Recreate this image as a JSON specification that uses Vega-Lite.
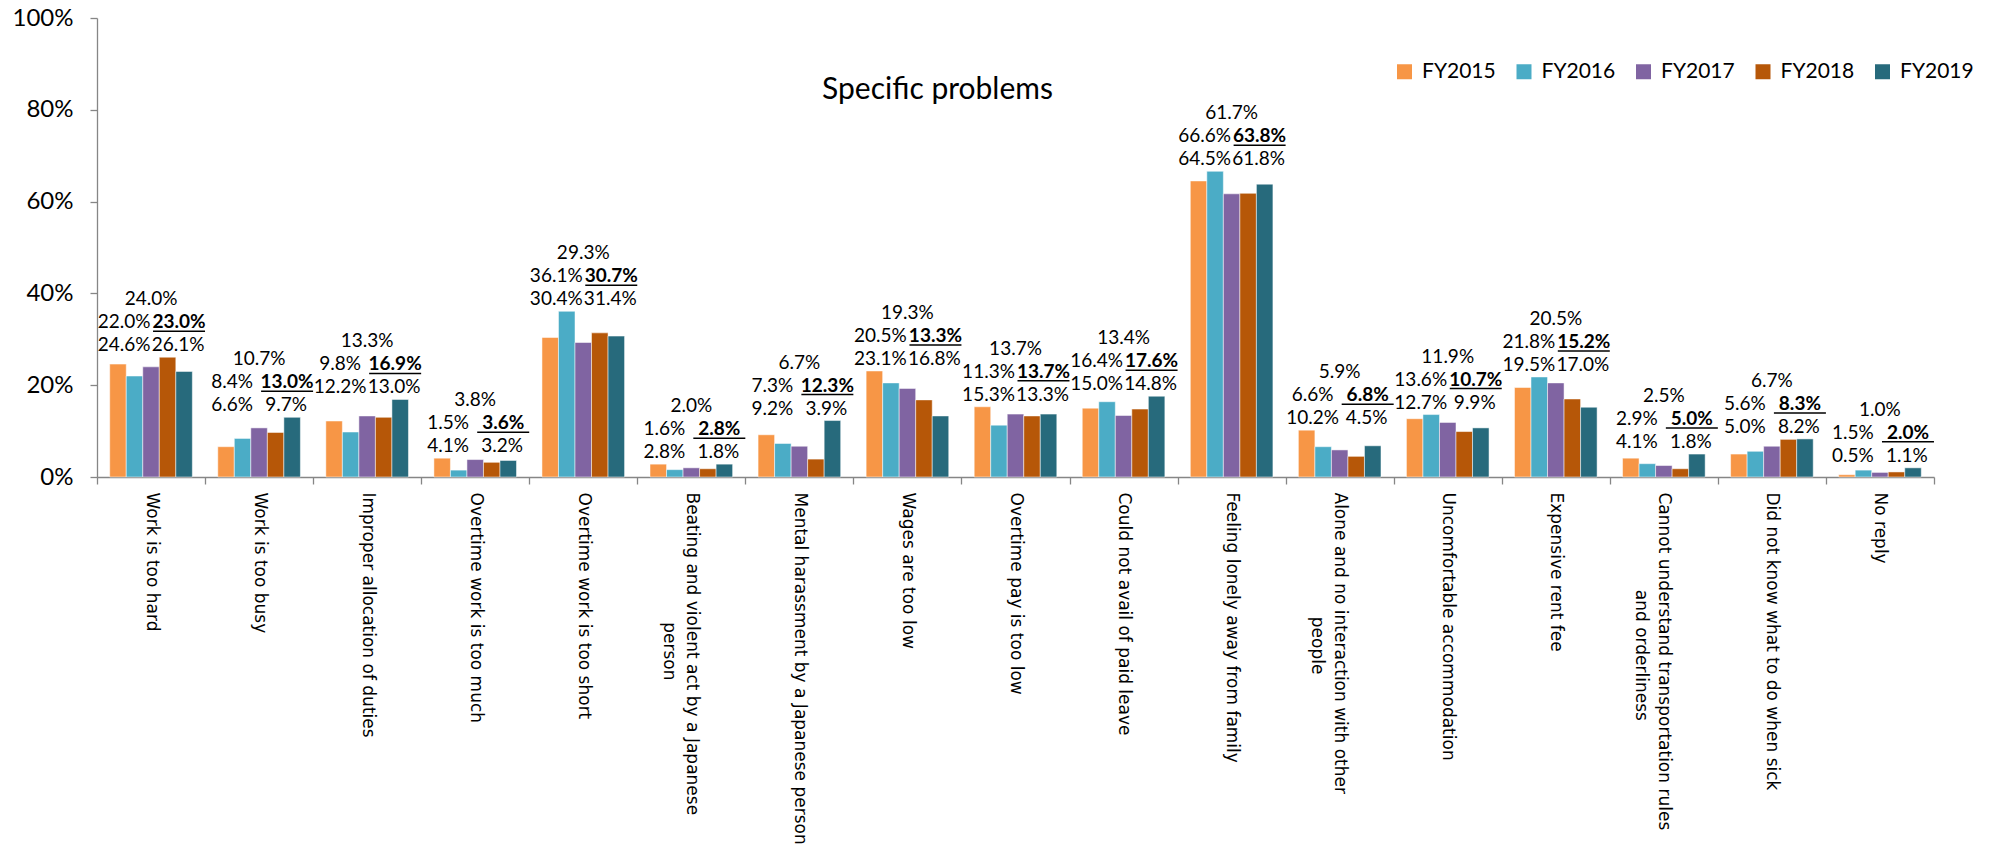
{
  "$schema": "https://vega.github.io/schema/vega-lite/v6.json",
  "width": 1837,
  "height": 459,
  "autosize": {"type": "none"},
  "padding": {"left": 97, "top": 18, "right": 59, "bottom": 373},
  "background": "white",
  "title": {"text": "Specific problems", "font": "Lato", "fontSize": 30, "fontWeight": "normal", "color": "#000000", "anchor": "middle", "frame": "group", "dx": -78, "dy": 103},
  "config": {"view": {"stroke": null}, "font": "Lato"},
  "data": {"values": [
    {"category": "Work is too hard", "year": "FY2015", "value": 0.246},
    {"category": "Work is too hard", "year": "FY2016", "value": 0.220},
    {"category": "Work is too hard", "year": "FY2017", "value": 0.240},
    {"category": "Work is too hard", "year": "FY2018", "value": 0.261},
    {"category": "Work is too hard", "year": "FY2019", "value": 0.230},
    {"category": "Work is too busy", "year": "FY2015", "value": 0.066},
    {"category": "Work is too busy", "year": "FY2016", "value": 0.084},
    {"category": "Work is too busy", "year": "FY2017", "value": 0.107},
    {"category": "Work is too busy", "year": "FY2018", "value": 0.097},
    {"category": "Work is too busy", "year": "FY2019", "value": 0.130},
    {"category": "Improper allocation of duties", "year": "FY2015", "value": 0.122},
    {"category": "Improper allocation of duties", "year": "FY2016", "value": 0.098},
    {"category": "Improper allocation of duties", "year": "FY2017", "value": 0.133},
    {"category": "Improper allocation of duties", "year": "FY2018", "value": 0.130},
    {"category": "Improper allocation of duties", "year": "FY2019", "value": 0.169},
    {"category": "Overtime work is too much", "year": "FY2015", "value": 0.041},
    {"category": "Overtime work is too much", "year": "FY2016", "value": 0.015},
    {"category": "Overtime work is too much", "year": "FY2017", "value": 0.038},
    {"category": "Overtime work is too much", "year": "FY2018", "value": 0.032},
    {"category": "Overtime work is too much", "year": "FY2019", "value": 0.036},
    {"category": "Overtime work is too short", "year": "FY2015", "value": 0.304},
    {"category": "Overtime work is too short", "year": "FY2016", "value": 0.361},
    {"category": "Overtime work is too short", "year": "FY2017", "value": 0.293},
    {"category": "Overtime work is too short", "year": "FY2018", "value": 0.314},
    {"category": "Overtime work is too short", "year": "FY2019", "value": 0.307},
    {"category": "Beating and violent act by a Japanese\nperson", "year": "FY2015", "value": 0.028},
    {"category": "Beating and violent act by a Japanese\nperson", "year": "FY2016", "value": 0.016},
    {"category": "Beating and violent act by a Japanese\nperson", "year": "FY2017", "value": 0.020},
    {"category": "Beating and violent act by a Japanese\nperson", "year": "FY2018", "value": 0.018},
    {"category": "Beating and violent act by a Japanese\nperson", "year": "FY2019", "value": 0.028},
    {"category": "Mental harassment by a Japanese person", "year": "FY2015", "value": 0.092},
    {"category": "Mental harassment by a Japanese person", "year": "FY2016", "value": 0.073},
    {"category": "Mental harassment by a Japanese person", "year": "FY2017", "value": 0.067},
    {"category": "Mental harassment by a Japanese person", "year": "FY2018", "value": 0.039},
    {"category": "Mental harassment by a Japanese person", "year": "FY2019", "value": 0.123},
    {"category": "Wages are too low", "year": "FY2015", "value": 0.231},
    {"category": "Wages are too low", "year": "FY2016", "value": 0.205},
    {"category": "Wages are too low", "year": "FY2017", "value": 0.193},
    {"category": "Wages are too low", "year": "FY2018", "value": 0.168},
    {"category": "Wages are too low", "year": "FY2019", "value": 0.133},
    {"category": "Overtime pay is too low", "year": "FY2015", "value": 0.153},
    {"category": "Overtime pay is too low", "year": "FY2016", "value": 0.113},
    {"category": "Overtime pay is too low", "year": "FY2017", "value": 0.137},
    {"category": "Overtime pay is too low", "year": "FY2018", "value": 0.133},
    {"category": "Overtime pay is too low", "year": "FY2019", "value": 0.137},
    {"category": "Could not avail of paid leave", "year": "FY2015", "value": 0.150},
    {"category": "Could not avail of paid leave", "year": "FY2016", "value": 0.164},
    {"category": "Could not avail of paid leave", "year": "FY2017", "value": 0.134},
    {"category": "Could not avail of paid leave", "year": "FY2018", "value": 0.148},
    {"category": "Could not avail of paid leave", "year": "FY2019", "value": 0.176},
    {"category": "Feeling lonely away from family", "year": "FY2015", "value": 0.645},
    {"category": "Feeling lonely away from family", "year": "FY2016", "value": 0.666},
    {"category": "Feeling lonely away from family", "year": "FY2017", "value": 0.617},
    {"category": "Feeling lonely away from family", "year": "FY2018", "value": 0.618},
    {"category": "Feeling lonely away from family", "year": "FY2019", "value": 0.638},
    {"category": "Alone and no interaction with other\npeople", "year": "FY2015", "value": 0.102},
    {"category": "Alone and no interaction with other\npeople", "year": "FY2016", "value": 0.066},
    {"category": "Alone and no interaction with other\npeople", "year": "FY2017", "value": 0.059},
    {"category": "Alone and no interaction with other\npeople", "year": "FY2018", "value": 0.045},
    {"category": "Alone and no interaction with other\npeople", "year": "FY2019", "value": 0.068},
    {"category": "Uncomfortable accommodation", "year": "FY2015", "value": 0.127},
    {"category": "Uncomfortable accommodation", "year": "FY2016", "value": 0.136},
    {"category": "Uncomfortable accommodation", "year": "FY2017", "value": 0.119},
    {"category": "Uncomfortable accommodation", "year": "FY2018", "value": 0.099},
    {"category": "Uncomfortable accommodation", "year": "FY2019", "value": 0.107},
    {"category": "Expensive rent fee", "year": "FY2015", "value": 0.195},
    {"category": "Expensive rent fee", "year": "FY2016", "value": 0.218},
    {"category": "Expensive rent fee", "year": "FY2017", "value": 0.205},
    {"category": "Expensive rent fee", "year": "FY2018", "value": 0.170},
    {"category": "Expensive rent fee", "year": "FY2019", "value": 0.152},
    {"category": "Cannot understand transportation rules\nand orderliness", "year": "FY2015", "value": 0.041},
    {"category": "Cannot understand transportation rules\nand orderliness", "year": "FY2016", "value": 0.029},
    {"category": "Cannot understand transportation rules\nand orderliness", "year": "FY2017", "value": 0.025},
    {"category": "Cannot understand transportation rules\nand orderliness", "year": "FY2018", "value": 0.018},
    {"category": "Cannot understand transportation rules\nand orderliness", "year": "FY2019", "value": 0.050},
    {"category": "Did not know what to do when sick", "year": "FY2015", "value": 0.050},
    {"category": "Did not know what to do when sick", "year": "FY2016", "value": 0.056},
    {"category": "Did not know what to do when sick", "year": "FY2017", "value": 0.067},
    {"category": "Did not know what to do when sick", "year": "FY2018", "value": 0.082},
    {"category": "Did not know what to do when sick", "year": "FY2019", "value": 0.083},
    {"category": "No reply", "year": "FY2015", "value": 0.005},
    {"category": "No reply", "year": "FY2016", "value": 0.015},
    {"category": "No reply", "year": "FY2017", "value": 0.010},
    {"category": "No reply", "year": "FY2018", "value": 0.011},
    {"category": "No reply", "year": "FY2019", "value": 0.020}
  ]},
  "transform": [
    {"joinaggregate": [{"op": "max", "field": "value", "as": "gmax"}], "groupby": ["category"]}
  ],
  "encoding": {
    "x": {
      "field": "category", "type": "nominal", "sort": null,
      "scale": {"paddingInner": 0, "paddingOuter": 0},
      "axis": {
        "title": null, "tickBand": "extent", "tickSize": 7, "tickColor": "#868686", "tickWidth": 1.3,
        "domainColor": "#868686", "domainWidth": 1.3, "labelAngle": 90,
        "labelFont": "DejaVu Sans", "labelFontSize": 17, "labelColor": "#000000",
        "labelPadding": 8, "labelLimit": 600, "labelLineHeight": 23,
        "labelExpr": "length(split(datum.label, '\\n')) > 1 ? [split(datum.label, '\\n')[0], '\u200b' + pad(split(datum.label, '\\n')[1], length(split(datum.label, '\\n')[1]) + floor((length(split(datum.label, '\\n')[0]) - length(split(datum.label, '\\n')[1])) * 0.8), '\u00a0', 'left')] : datum.label"
      }
    }
  },
  "layer": [
    {
      "mark": {"type": "bar", "stroke": "white", "strokeWidth": 0.5},
      "encoding": {
        "xOffset": {"field": "year", "type": "nominal", "sort": ["FY2015", "FY2016", "FY2017", "FY2018", "FY2019"], "scale": {"paddingInner": 0, "paddingOuter": 0.77}},
        "y": {
          "field": "value", "type": "quantitative", "scale": {"domain": [0, 1]},
          "axis": {
            "title": null, "values": [0, 0.2, 0.4, 0.6, 0.8, 1], "format": ".0%", "grid": false,
            "domainColor": "#868686", "domainWidth": 1.3, "tickColor": "#868686", "tickWidth": 1.3, "tickSize": 7,
            "labelFont": "Lato", "labelFontSize": 24, "labelColor": "#000000", "labelPadding": 17
          }
        },
        "color": {
          "field": "year", "type": "nominal",
          "scale": {"domain": ["FY2015", "FY2016", "FY2017", "FY2018", "FY2019"], "range": ["#F79646", "#4BACC6", "#8064A2", "#B65708", "#276A7C"]},
          "legend": {
            "title": null, "orient": "none", "legendX": 1297, "legendY": 43, "direction": "horizontal", "columns": 5,
            "symbolType": "square", "symbolSize": 225, "symbolStrokeWidth": 0,
            "labelFont": "Lato", "labelFontSize": 21, "labelColor": "#000000", "labelOffset": 7,
            "columnPadding": 17.5, "padding": 0, "labelLimit": 200
          }
        }
      }
    },
    {
      "transform": [{"filter": "datum.year === 'FY2015'"}],
      "mark": {"type": "text", "font": "Lato", "fontSize": 19, "color": "#000000", "baseline": "alphabetic", "dx": -27, "dy": -6},
      "encoding": {"y": {"field": "gmax", "type": "quantitative", "title": null}, "text": {"field": "value", "type": "quantitative", "format": ".1%"}}
    },
    {
      "transform": [{"filter": "datum.year === 'FY2016'"}],
      "mark": {"type": "text", "font": "Lato", "fontSize": 19, "color": "#000000", "baseline": "alphabetic", "dx": -27, "dy": -29},
      "encoding": {"y": {"field": "gmax", "type": "quantitative", "title": null}, "text": {"field": "value", "type": "quantitative", "format": ".1%"}}
    },
    {
      "transform": [{"filter": "datum.year === 'FY2017'"}],
      "mark": {"type": "text", "font": "Lato", "fontSize": 19, "color": "#000000", "baseline": "alphabetic", "dx": 0, "dy": -52},
      "encoding": {"y": {"field": "gmax", "type": "quantitative", "title": null}, "text": {"field": "value", "type": "quantitative", "format": ".1%"}}
    },
    {
      "transform": [{"filter": "datum.year === 'FY2018'"}],
      "mark": {"type": "text", "font": "Lato", "fontSize": 19, "color": "#000000", "baseline": "alphabetic", "dx": 27, "dy": -6},
      "encoding": {"y": {"field": "gmax", "type": "quantitative", "title": null}, "text": {"field": "value", "type": "quantitative", "format": ".1%"}}
    },
    {
      "transform": [{"filter": "datum.year === 'FY2019'"}],
      "mark": {"type": "text", "font": "Lato", "fontSize": 19, "fontWeight": "bold", "color": "#000000", "baseline": "alphabetic", "dx": 28, "dy": -29},
      "encoding": {"y": {"field": "gmax", "type": "quantitative", "title": null}, "text": {"field": "value", "type": "quantitative", "format": ".1%"}}
    },
    {
      "transform": [{"filter": "datum.year === 'FY2019'"}],
      "mark": {"type": "tick", "color": "#000000", "size": 52, "thickness": 1.5, "xOffset": 28, "yOffset": -26, "opacity": 1},
      "encoding": {"y": {"field": "gmax", "type": "quantitative", "title": null}}
    }
  ]
}
